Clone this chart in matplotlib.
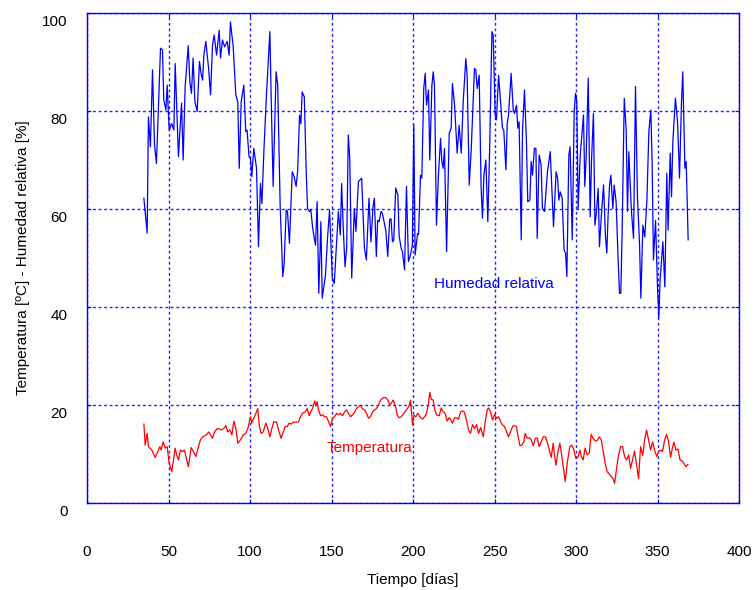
import numpy as np
import matplotlib
matplotlib.use("Agg")
import matplotlib.pyplot as plt
import matplotlib.transforms as mtransforms

# ---- data ----
hum_dias = [34.9, 36.9, 37.7, 38.9, 40.2, 41.4, 42.6, 45.1, 46.3, 47.1, 48.4, 49.2, 50.4, 52.0, 53.3,
            54.1, 56.1, 58.0, 59.0, 60.2, 62.1, 63.1, 64.1, 65.1, 66.2, 67.6, 69.0, 70.1, 70.9, 71.7,
            72.9, 74.6, 75.8, 77.0, 78.0, 79.5, 81.1, 81.9, 83.1, 84.4, 86.0, 87.2, 88.0, 89.7, 91.3,
            92.5, 93.4, 94.6, 96.2, 97.4, 98.2, 99.4, 100.3, 101.1, 102.3, 104.0, 105.2, 106.4, 107.3,
            108.5, 110.1, 112.2, 113.0, 114.2, 116.0, 117.0, 118.5, 120.1, 120.9, 122.2, 123.0, 124.2,
            125.9, 127.1, 128.3, 129.2, 130.4, 131.2, 132.0, 133.3, 134.5, 135.3, 136.5, 137.3, 138.5,
            140.2, 141.2, 142.2, 143.5, 144.3, 146.3, 147.6, 148.8, 150.5, 151.7, 152.9, 154.2, 155.4,
            156.2, 157.3, 158.3, 159.3, 160.3, 161.2, 162.4, 164.0, 165.0, 166.5, 168.5, 170.2, 171.4,
            173.0, 174.2, 175.5, 176.3, 177.5, 178.3, 179.2, 180.4, 181.2, 183.3, 184.5, 185.7, 186.5,
            187.4, 188.2, 189.4, 190.7, 191.5, 192.7, 193.5, 194.8, 196.0, 197.2, 198.4, 199.6, 200.5,
            201.3, 202.1, 202.8, 203.4, 204.6, 205.4, 206.6, 207.5, 208.3, 209.5, 210.3, 211.6, 212.4,
            213.2, 214.4, 215.6, 216.9, 217.7, 218.5, 219.3, 220.6, 222.2, 223.4, 224.2, 225.5, 227.1,
            228.3, 229.6, 230.8, 232.4, 233.2, 234.5, 235.7, 237.7, 238.5, 239.4, 240.6, 241.8, 242.6,
            243.5, 244.7, 245.9, 247.1, 248.4, 249.2, 250.4, 251.2, 252.5, 253.7, 254.9, 255.7, 257.0,
            257.8, 258.6, 260.2, 261.5, 262.3, 263.5, 264.3, 265.1, 266.4, 267.2, 268.4, 269.6, 270.4,
            271.7, 272.5, 273.3, 274.5, 275.4, 276.2, 277.4, 278.6, 279.4, 280.7, 282.5, 284.2, 286.2,
            287.8, 288.7, 289.5, 290.3, 291.5, 292.7, 293.6, 294.4, 295.6, 296.4, 297.7, 298.9, 299.7,
            300.5, 301.3, 302.6, 304.6, 305.4, 306.2, 307.5, 308.7, 309.5, 310.7, 311.6, 312.4, 313.6,
            314.4, 315.6, 316.9, 318.1, 318.9, 319.7, 320.6, 321.4, 322.6, 323.4, 324.6, 325.9, 326.7,
            327.5, 328.3, 329.6, 330.8, 331.6, 332.4, 334.0, 335.3, 336.5, 337.7, 339.0, 339.8, 341.0,
            342.2, 343.5, 344.7, 345.9, 346.7, 347.5, 348.8, 350.0, 350.8, 351.6, 353.3, 354.5, 355.7,
            356.5, 357.8, 358.6, 359.4, 361.0, 362.3, 363.5, 364.7, 365.5, 366.8, 367.6, 368.8]
humedad = [62.2, 55.1, 78.8, 72.7, 88.4, 73.1, 69.3, 92.8, 92.5, 82.3, 80.2, 85.3, 76.1, 77.4, 76.1,
           89.7, 70.7, 81.6, 70.0, 84.9, 93.3, 86.0, 83.6, 90.8, 81.9, 79.9, 90.1, 87.4, 86.3, 91.4,
           94.2, 88.7, 83.3, 93.5, 95.5, 91.4, 96.5, 90.8, 94.5, 93.1, 94.2, 91.4, 98.2, 93.1, 83.3,
           81.9, 68.3, 81.9, 85.3, 75.8, 76.1, 70.7, 70.3, 66.6, 72.4, 68.3, 52.3, 65.2, 61.1,
           71.7, 83.3, 96.2, 82.6, 64.6, 88.0, 85.3, 60.7, 46.2, 48.6, 59.8, 59.5, 53.0,
           67.6, 66.6, 64.6, 67.6, 79.2, 77.4, 83.9, 82.9, 67.6, 60.1, 59.5, 59.8, 56.0,
           52.6, 61.5, 42.8, 57.4, 41.8, 46.5, 54.3, 59.8, 45.9, 44.8, 52.0, 59.5, 54.7,
           65.2, 55.4, 48.2, 52.0, 75.1, 70.3, 45.9, 60.1, 55.4, 65.6, 66.3, 52.0, 49.6,
           62.2, 53.3, 60.7, 62.2, 50.3, 57.7, 57.4, 59.5, 59.1, 55.7, 50.3, 57.9, 58.0,
           53.3, 53.6, 64.3, 62.9, 54.5, 52.0, 51.3, 47.6, 64.6, 49.3, 50.6, 52.6, 77.1,
           50.6, 53.0, 55.0, 54.8, 66.9, 66.3, 84.6, 87.7, 81.2, 84.3, 70.0, 85.3, 88.0,
           85.0, 56.7, 66.9, 74.4, 69.7, 68.3, 72.4, 51.3, 75.4, 76.5, 85.6, 81.2, 71.4,
           77.1, 71.4, 81.9, 90.7, 87.3, 64.9, 72.0, 88.7, 88.4, 84.6, 87.3, 64.2, 58.1,
           66.9, 70.0, 57.4, 73.4, 96.2, 95.5, 79.2, 78.2, 87.3, 81.9, 76.5, 76.1, 68.0,
           77.5, 79.2, 87.7, 80.2, 79.5, 81.2, 76.5, 77.8, 53.7, 76.1, 84.3, 73.7, 61.5,
           61.8, 69.7, 66.9, 72.4, 72.4, 54.0, 71.0, 69.0, 60.1, 59.5, 67.6, 71.7, 56.4,
           67.6, 66.3, 61.8, 63.5, 62.2, 51.6, 51.0, 46.2, 71.0, 72.7, 53.7, 79.9, 83.6,
           81.9, 60.1, 71.0, 79.2, 64.6, 70.3, 86.7, 58.4, 69.7, 79.5, 56.7, 58.8, 64.2,
           52.3, 58.8, 64.9, 54.3, 51.0, 58.8, 64.9, 66.9, 60.1, 64.9, 61.5, 49.2, 42.8,
           42.8, 55.4, 82.6, 76.1, 59.5, 71.7, 59.5, 54.0, 85.0, 62.5, 52.6, 41.8, 56.7,
           54.3, 61.8, 75.8, 80.2, 69.7, 49.6, 57.7, 44.1, 37.7, 45.5, 53.3, 44.1, 67.3,
           55.7, 71.4, 62.5, 73.7, 82.6, 77.8, 66.3, 81.6, 88.0, 68.3, 69.7, 53.7]

temp_dias = [34.9, 35.7, 36.9, 37.7, 39.8, 41.8, 43.5, 44.7, 45.5, 46.7, 47.9, 49.2, 50.4, 52.0, 54.1,
             55.3, 56.1, 57.3, 58.5, 59.8, 61.0, 62.2, 63.9, 65.1, 66.8, 68.4, 69.6, 70.9, 72.1, 73.3,
             74.6, 75.8, 77.0, 78.2, 79.9, 81.1, 82.3, 83.9, 85.2, 86.4, 87.6, 88.9, 90.1, 91.3, 92.5,
             94.2, 95.8, 97.4, 98.7, 100.3, 101.1, 102.3, 103.6, 104.8, 105.6, 106.8, 108.1, 109.7,
             110.9, 112.2, 113.4, 114.6, 116.3, 117.5, 119.1, 120.4, 121.6, 122.8, 124.0, 125.3, 126.5,
             128.1, 129.8, 131.0, 132.2, 133.9, 135.1, 136.3, 137.5, 138.4, 139.6, 140.4, 141.2, 142.0,
             143.3, 144.5, 145.7, 146.9, 148.2, 149.4, 150.6, 151.8, 153.1, 154.3, 155.5, 156.8, 158.0,
             159.2, 160.4, 161.7, 162.9, 164.1, 165.4, 166.6, 167.8, 169.0, 170.3, 171.5, 172.7, 173.9,
             175.2, 176.4, 177.6, 178.8, 180.1, 181.7, 183.4, 184.6, 185.8, 186.6, 187.8, 189.1, 190.3,
             191.5, 192.8, 194.4, 196.0, 197.7, 198.5, 199.7, 200.5, 201.7, 202.9, 204.2, 205.8, 207.1,
             208.3, 209.5, 210.3, 211.2, 212.4, 213.2, 214.4, 216.1, 217.3, 218.5, 219.7, 221.0, 222.2,
             223.0, 224.2, 225.5, 226.7, 227.9, 229.2, 230.4, 231.6, 232.9, 234.1, 235.3, 236.5, 237.8,
             239.0, 240.2, 241.5, 243.1, 244.3, 245.5, 246.4, 247.6, 248.8, 250.0, 251.3, 252.5, 253.7,
             254.9, 256.2, 257.4, 258.6, 259.8, 261.1, 262.3, 263.5, 264.3, 265.6, 266.8, 268.0, 268.8,
             270.1, 271.3, 272.5, 273.8, 275.0, 276.2, 277.4, 278.7, 279.9, 281.1, 282.3, 283.6, 284.8,
             286.0, 286.8, 287.7, 288.9, 290.1, 290.9, 292.2, 293.4, 294.6, 296.2, 297.5, 298.7, 299.9,
             301.1, 302.4, 303.2, 304.4, 305.6, 306.9, 308.1, 309.3, 310.5, 311.8, 313.0, 314.2, 315.5,
             316.7, 317.9, 319.1, 320.4, 321.6, 322.8, 323.7, 324.9, 326.1, 327.4, 328.6, 329.8, 331.0,
             332.3, 333.5, 334.7, 335.9, 337.2, 338.4, 339.6, 340.9, 342.1, 343.3, 344.5, 345.8, 347.0,
             348.2, 349.5, 350.7, 351.9, 353.1, 354.4, 355.6, 356.8, 358.0, 359.3, 360.1, 361.3, 362.6,
             363.8, 365.0, 366.2, 367.4, 368.7]
temperatura = [16.1, 11.8, 14.2, 11.5, 10.8, 9.3, 10.5, 11.5, 10.8, 12.5, 11.2, 11.5, 8.1, 6.4, 11.2,
               9.5, 8.8, 10.8, 10.5, 10.8, 9.1, 7.4, 11.3, 10.6, 9.5, 11.5, 12.9, 13.5, 13.7, 13.9,
               14.5, 13.9, 13.2, 14.5, 15.2, 15.1, 14.9, 15.2, 15.8, 14.5, 14.9, 13.9, 16.7, 15.2, 12.2,
               12.9, 13.9, 14.2, 15.2, 17.6, 16.3, 17.3, 18.3, 19.3, 15.9, 14.2, 14.5, 16.3,
               15.2, 13.5, 15.2, 16.6, 16.5, 14.9, 13.2, 14.5, 15.6, 15.6, 16.3, 16.1, 16.5,
               16.5, 16.6, 17.6, 18.3, 18.6, 19.3, 17.8, 18.8, 19.3, 20.8, 19.9, 20.7, 19.0,
               17.8, 18.0, 17.6, 17.6, 16.6, 15.6, 17.3, 17.6, 18.3, 18.0, 18.3, 17.8, 18.6,
               19.0, 18.3, 17.6, 18.0, 18.5, 19.3, 19.7, 19.9, 19.2, 19.0, 18.3, 17.3, 17.6,
               18.6, 19.0, 19.3, 20.0, 21.0, 21.5, 21.5, 21.0, 20.0, 20.3, 21.0, 20.0, 18.0,
               17.4, 17.6, 18.3, 19.0, 19.9, 21.0, 15.9, 17.9, 17.6, 18.3, 17.6, 17.1, 17.6,
               18.3, 20.3, 22.6, 21.2, 21.0, 19.2, 18.0, 17.8, 19.4, 18.6, 18.3, 16.7, 17.4,
               17.1, 16.3, 17.4, 17.4, 17.1, 18.6, 18.8, 18.5, 16.7, 14.9, 14.2, 16.0, 15.2,
               16.0, 14.2, 15.4, 13.5, 16.6, 19.0, 19.4, 18.6, 16.9, 18.1, 17.3, 17.6, 16.6,
               15.9, 15.6, 14.5, 13.5, 14.5, 15.6, 15.8, 15.6, 13.9, 11.7, 11.8, 12.5, 14.2,
               13.2, 13.3, 12.9, 11.7, 13.2, 13.3, 11.5, 12.5, 13.5, 13.5, 12.5, 10.8, 9.3,
               12.2, 9.8, 7.7, 10.5, 12.2, 10.5, 7.4, 4.4, 8.1, 11.5, 11.8, 10.8, 9.1,
               9.3, 10.8, 9.5, 8.8, 11.2, 9.8, 10.2, 14.0, 13.2, 12.7, 12.7, 13.5, 12.9,
               10.5, 8.1, 6.4, 5.9, 5.4, 5.0, 4.0, 7.1, 9.8, 11.5, 11.5, 9.5, 8.8,
               9.8, 7.1, 8.8, 10.6, 7.7, 5.0, 11.5, 9.7, 12.9, 14.9, 12.9, 10.8, 12.5,
               10.8, 9.5, 10.5, 10.8, 10.5, 12.9, 14.0, 12.5, 9.3, 11.5, 12.4, 10.8, 11.0,
               8.8, 8.6, 8.1, 7.4, 7.9]

x_ticks = [0, 50, 100, 150, 200, 250, 300, 350, 400]
y_ticks = [0, 20, 40, 60, 80, 100]

plt.rcParams['font.family'] = ['Liberation Sans', 'DejaVu Sans']
plt.rcParams['font.size'] = 11

fig = plt.figure(figsize=(7.56, 5.90), dpi=100)
ax = fig.add_axes([87/756, 87/590, (739-87)/756, (503-13)/590])

ax.plot(hum_dias, humedad, color='#0000ff', lw=0.9)
ax.plot(temp_dias, temperatura, color='#ff0000', lw=0.9)

ax.text(213, 44.7, 'Humedad relativa', color='#0000ff', ha='left', va='center', fontsize=11)
ax.text(147, 11.2, 'Temperatura', color='#ff0000', ha='left', va='center', fontsize=11)

ax.set_xlim(0, 400)
ax.set_ylim(0, 100)
ax.set_xticks(x_ticks)
ax.set_yticks(y_ticks)
ax.grid(True, color='#2020ff', linestyle=(0, (2, 2)), lw=1.0)

for s in ax.spines.values():
    s.set_color('#0000ff')
    s.set_linewidth(1.0)
ax.tick_params(direction='in', length=3, color='#0000ff', top=True, right=True,
               labelcolor='black')
ax.tick_params(axis='x', pad=30)
ax.tick_params(axis='y', pad=14)

# gnuplot puts the y labels a little under the tick
off = mtransforms.ScaledTranslation(0, -0.07, fig.dpi_scale_trans)
for lab in ax.get_yticklabels():
    lab.set_transform(lab.get_transform() + off)

ax.set_xlabel('Tiempo [días]', labelpad=10)
ax.set_ylabel('Temperatura [ºC] - Humedad relativa [%]', labelpad=9)

fig.savefig('out.png', dpi=100)
